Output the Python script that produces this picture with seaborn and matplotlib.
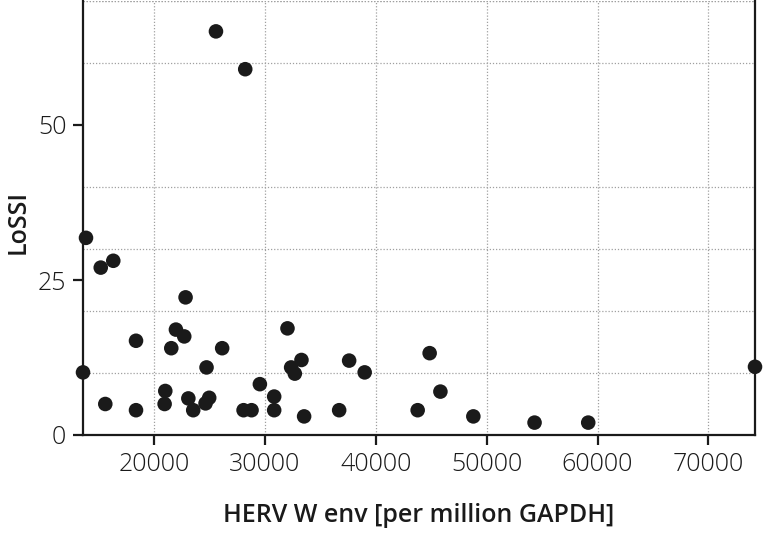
import matplotlib
matplotlib.use("Agg")
import matplotlib.pyplot as plt
from matplotlib.ticker import MultipleLocator, FixedLocator
import seaborn as sns
import pandas as pd

herv = [25590, 28230, 13870, 15200, 16330, 22850, 18380, 21980, 22730, 21560,
        26150, 13600, 24740, 32040, 32370, 33300, 32700, 37600, 39000, 29550,
        21020, 20960, 15610, 18380, 23100, 23540, 24980, 24650, 28080, 28800,
        30840, 30840, 33540, 36700, 44860, 45830, 43780, 48800, 54320, 59160,
        74200]
lossi = [65.1, 59.0, 31.8, 27.0, 28.1, 22.2, 15.2, 17.0, 15.9, 14.0,
         14.0, 10.1, 10.9, 17.2, 10.9, 12.1, 9.9, 12.0, 10.1, 8.2,
         7.1, 5.0, 5.0, 4.0, 5.9, 4.0, 6.0, 5.1, 4.0, 4.0,
         6.2, 4.0, 3.0, 4.0, 13.2, 7.0, 4.0, 3.0, 2.0, 2.0,
         11.0]
x_ticks = [20000, 30000, 40000, 50000, 60000, 70000]
y_ticks = [0, 25, 50]

df = pd.DataFrame({"HERV": herv, "LoSSI": lossi})

sns.set_theme(style="white")
plt.rcParams["font.family"] = ["Open Sans", "DejaVu Sans"]

fig = plt.figure(figsize=(7.64, 5.33), dpi=100)
ax = fig.add_axes([83/764, 1-435/533, (755-83)/764, (435-1)/533])

sns.scatterplot(data=df, x="HERV", y="LoSSI", ax=ax, s=110, color="#1a1a1a",
                edgecolor="none", clip_on=False, zorder=5)

ax.set_xlim(min(herv), max(herv))
ax.set_ylim(0, 70)
ax.xaxis.set_major_locator(FixedLocator(x_ticks))
ax.yaxis.set_major_locator(FixedLocator(y_ticks))
ax.yaxis.set_minor_locator(MultipleLocator(10))

ax.grid(False)
ax.grid(True, which="major", axis="x", linestyle=(0, (1, 1.5)), color="#a0a0a0", linewidth=0.9)
ax.grid(True, which="minor", axis="y", linestyle=(0, (1, 1.5)), color="#a0a0a0", linewidth=0.9)
ax.set_axisbelow(True)

for s in ["left", "bottom", "right"]:
    ax.spines[s].set_visible(True)
    ax.spines[s].set_color("#1a1a1a")
    ax.spines[s].set_linewidth(1.6)
ax.spines["top"].set_visible(False)
ax.axhline(70, linestyle=(0, (1, 1.5)), color="#a0a0a0", linewidth=0.9, zorder=0)

ax.tick_params(axis="both", which="major", direction="out", length=7, width=1.6,
               color="#1a1a1a", labelsize=18, labelcolor="#1a1a1a", pad=5,
               left=True, bottom=True)
ax.tick_params(axis="y", which="minor", length=0)
for lab in ax.get_xticklabels() + ax.get_yticklabels():
    lab.set_fontweight("light")

ax.set_xlabel("HERV W env [per million GAPDH]", fontsize=18, fontweight="semibold",
              color="#1a1a1a", labelpad=19)
ax.set_ylabel("LoSSI", fontsize=18, fontweight="semibold", color="#1a1a1a")
ax.yaxis.set_label_coords(-0.078, 0.49)

fig.savefig("out.png", dpi=100)
